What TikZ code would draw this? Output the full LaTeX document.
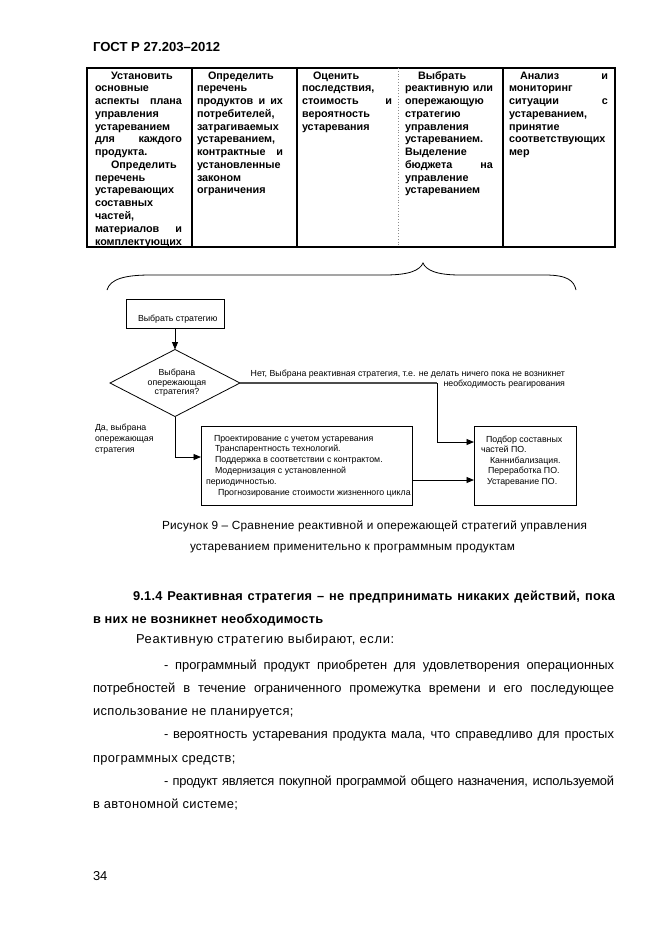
\documentclass[tikz,border=0pt]{standalone}
\usepackage{fontspec}
\setmainfont{Liberation Sans}
\usetikzlibrary{arrows.meta,shapes.geometric}

% line helpers for stacked text
\newcommand\lnL[1]{\hbox{#1}}
\newcommand\lnJ[1]{\hbox to\hsize{#1}}
\newcommand\lnI[2]{\hbox{\hskip#1pt #2}}
\newcommand\lnR[1]{\hbox to\hsize{\hfill #1}}
\newcommand\lnC[1]{\hbox to\hsize{\hfil #1\hfil}}
\newcommand\lnW[3]{\hbox{\hskip#1pt\hbox to#2pt{#3}}}
\newcommand\stk[3]{\vtop{\hsize=#1pt\baselineskip=#2pt\lineskiplimit=-100pt\lineskip=0pt\parindent=0pt #3}}
\newcommand\lsp[1]{\addfontfeature{LetterSpace=#1}}

\tikzset{
  txt/.style={anchor=base west, inner sep=0pt, outer sep=0pt},
  cellf/.style={font={\fontsize{10.8}{12.8}\selectfont\bfseries}},
  dgf/.style={font={\fontsize{8.8}{10}\selectfont}},
  bodyf/.style={font={\fontsize{12.9}{23}\selectfont}},
  capf/.style={font={\fontsize{11.8}{20}\selectfont\lsp{2}}},
  headf/.style={font={\fontsize{12.8}{23}\selectfont\bfseries\lsp{2}}},
  tbl/.style={line width=1.1pt},
  box/.style={draw, line width=0.8pt, inner sep=0pt, outer sep=0pt},
  arr/.style={-{Triangle[length=7.5pt,width=6pt]}, line width=0.9pt},
}

\begin{document}
\begin{tikzpicture}[x=1pt,y=-1pt]
\fill[white] (0,0) rectangle (661,935);
\useasboundingbox (0,0) rectangle (661,935);

% header
\node[txt, font={\fontsize{13.1}{15}\selectfont\bfseries}] (hdr) at (93,51) {ГОСТ Р 27.203–2012};

% table
\draw[tbl] (87,68) rectangle (615,247);
\draw[tbl] (192,68) -- (192,247);
\draw[tbl] (297,68) -- (297,247);
\draw[tbl] (503,68) -- (503,247);
\draw[line width=0.8pt, black!45, dotted] (398,68) -- (398,247);

\node[txt,cellf] (c1) at (95,79) {\stk{87}{12.77}{%
\lnI{16}{Установить}
\lnL{основные}
\lnJ{аспекты\hfill плана}
\lnL{управления}
\lnL{устареванием}
\lnJ{для\hfill каждого}
\lnL{продукта.}
\lnI{16}{Определить}
\lnL{перечень}
\lnL{устаревающих}
\lnL{составных}
\lnL{частей,}
\lnJ{материалов\hfill и}
\lnL{комплектующих}}};

\node[txt,cellf] (c2) at (197,79) {\stk{86}{12.77}{%
\lnI{11}{Определить}
\lnL{перечень}
\lnJ{продуктов\hfill и\hfill их}
\lnL{потребителей,}
\lnL{затрагиваемых}
\lnL{устареванием,}
\lnJ{контрактные\hfill и}
\lnL{установленные}
\lnL{законом}
\lnL{ограничения}}};

\node[txt,cellf] (c3) at (302,79) {\stk{90}{12.77}{%
\lnI{11}{Оценить}
\lnL{последствия,}
\lnJ{стоимость\hfill и}
\lnL{вероятность}
\lnL{устаревания}}};

\node[txt,cellf] (c4) at (405,79) {\stk{88}{12.77}{%
\lnI{13}{Выбрать}
\lnJ{реактивную\hfill или}
\lnL{опережающую}
\lnL{стратегию}
\lnL{управления}
\lnL{устареванием.}
\lnL{Выделение}
\lnJ{бюджета\hfill на}
\lnL{управление}
\lnL{устареванием}}};

\node[txt,cellf] (c5) at (509,79) {\stk{99}{12.77}{%
\lnJ{\hskip11pt Анализ\hfill и}
\lnL{мониторинг}
\lnJ{ситуации\hfill с}
\lnL{устареванием,}
\lnL{принятие}
\lnL{соответствующих}
\lnL{мер}}};

% brace
\draw[line width=0.8pt] (107,290) .. controls (110,279) and (125,275) .. (150,275)
  -- (385,275) .. controls (410,275) and (420,270) .. (423,263)
  .. controls (426,270) and (436,275) .. (460,275)
  -- (545,275) .. controls (568,275) and (574,281) .. (576,290);

% flowchart
\node[box, minimum width=98pt, minimum height=29pt] (s) at (175,313.5) {};
\node[txt,dgf] (st) at (138,321) {Выбрать стратегию};

\node[box, diamond, minimum width=130pt, minimum height=67pt] (d) at (175,383) {};
\node[txt,dgf] (dt) at (145,375.5) {\stk{64}{9.5}{%
\lnC{Выбрана}
\lnC{опережающая}
\lnC{стратегия?}}};

\node[box, minimum width=211pt, minimum height=79pt] (b1) at (306.5,465.5) {};
\node[txt,dgf] (b1t) at (206,441) {\stk{205}{10.8}{%
\lnI{8}{Проектирование с учетом устаревания}
\lnI{9}{Транспарентность технологий.}
\lnI{9}{Поддержка в соответствии с контрактом.}
\lnI{9}{Модернизация с установленной}
\lnL{периодичностью.}
\lnI{12}{Прогнозирование стоимости жизненного цикла}}};

\node[box, minimum width=102pt, minimum height=79pt] (b2) at (525,465.5) {};
\node[txt,dgf] (b2t) at (481,442) {\stk{95}{10.5}{%
\lnI{5}{Подбор составных}
\lnL{частей ПО.}
\lnI{9}{Каннибализация.}
\lnI{7}{Переработка ПО.}
\lnI{6}{Устаревание ПО.}}};

\node[txt,dgf] (nl) at (245,376) {\stk{320}{10}{%
\lnR{Нет, Выбрана реактивная стратегия, т.е. не делать ничего пока не возникнет}
\lnR{необходимость реагирования}}};

\node[txt,dgf] (yl) at (95,430) {\stk{80}{11}{%
\lnL{Да, выбрана}
\lnL{опережающая}
\lnL{стратегия}}};

\coordinate (n1) at (437,383);
\coordinate (n2) at (437,442);
\coordinate (y1) at (175,457);
\coordinate (r) at (0,480);

\draw[arr] (s.south) -- (d.north);
\draw[line width=1.4pt, black!70] (d.east) -- (n1);
\draw[arr] (n1) -- (n2) -- (n2 -| b2.west);
\draw[arr] (d.south) -- (y1) -- (y1 -| b1.west);
\draw[arr] (b1.east |- r) -- (b2.west |- r);

% caption
\node[txt,capf] (cap) at (162,529) {\stk{425}{21}{%
\lnJ{Рисунок 9 – Сравнение реактивной и опережающей стратегий управления}
\lnW{28}{325}{устареванием применительно к программным продуктам}}};

% heading
\node[txt,headf] (hd) at (93,600) {\stk{522}{23}{%
\lnW{40}{482}{9.1.4 Реактивная стратегия – не предпринимать никаких действий, пока}
\lnL{в них не возникнет необходимость}}};

% body
\node[txt,bodyf] (p0) at (136,643) {\lsp{5}Реактивную стратегию выбирают, если:};
\node[txt,bodyf] (p1) at (93,669) {\stk{521}{23.33}{%
\lnW{71}{450}{- программный продукт приобретен для удовлетворения операционных}
\lnJ{потребностей в течение ограниченного промежутка времени и его последующее}
\lnL{\lsp{3}использование не планируется;}
\lnW{71}{450}{- вероятность устаревания продукта мала, что справедливо для простых}
\lnL{\lsp{3}программных средств;}
\lnW{71}{450}{\lsp{-2}- продукт является покупной программой общего назначения, используемой}
\lnL{\lsp{3}в автономной системе;}}};

\node[txt,bodyf] (pg) at (93,880) {34};
\end{tikzpicture}
\end{document}
